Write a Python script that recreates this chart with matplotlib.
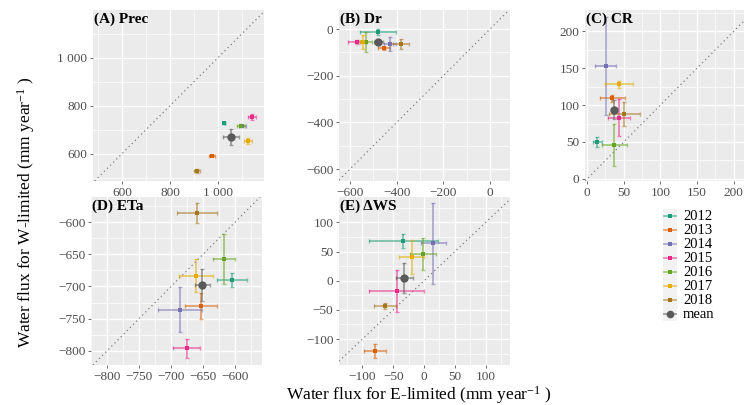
import matplotlib
matplotlib.use("Agg")
import matplotlib.pyplot as plt
from matplotlib.ticker import FixedLocator, FuncFormatter

# Years and colours (Dark2)
years = ["2012", "2013", "2014", "2015", "2016", "2017", "2018"]
year_colors = ["#1B9E77", "#D95F02", "#7570B3", "#E7298A", "#66A61E", "#E6AB02", "#A6761D"]
mean_color = "#5A5A5A"

# (A) Prec: E-limited (x) vs W-limited (y), mm/year
prec_e = [1026, 975, 1100, 1140, 1095, 1126, 911]
prec_e_err = [3, 12, 15, 17, 17, 17, 12]
prec_w = [728, 592, 714, 754, 717, 651, 528]
prec_w_err = [3, 3, 3, 12, 5, 12, 8]
prec_mean = [1054, 33, 668, 33]

# (B) Dr
dr_e = [-481, -453, -429, -570, -531, -543, -381]
dr_e_err = [77, 26, 25, 38, 25, 15, 34]
dr_w = [-14, -83, -64, -54, -57, -54, -64]
dr_w_err = [13, 8, 30, 8, 43, 30, 20]
dr_mean = [-478, 21, -57, 4]

# (C) CR
cr_e = [13.8, 34, 25.3, 44, 37.3, 44, 50.7]
cr_e_err = [6, 17, 14, 15, 17, 19, 21]
cr_w = [49.5, 109, 153, 83, 46, 128, 88]
cr_w_err = [7, 5, 66, 25, 29, 5, 16]
cr_mean = [36.4, 4, 93.6, 13]

# (D) ETa
eta_e = [-605, -653, -686, -675.5, -617, -661, -660]
eta_e_err = [23, 25.5, 34, 21, 17.5, 27, 31]
eta_w = [-690, -730, -736, -796, -657, -683, -586]
eta_w_err = [11, 20, 35, 15, 39, 26, 15]
eta_mean = [-651, 12, -698, 25]

# (E) delta WS
dws_e = [-33.6, -79, 15, -44, -2, -20, -63]
dws_e_err = [56, 18, 20, 44.6, 21, 20, 18]
dws_w = [68.6, -120.6, 64, -17, 45.7, 41, -43.4]
dws_w_err = [12, 12, 70, 36, 28, 29, 5]
dws_mean = [-32, 13.5, 5, 26]

plt.rcParams["font.family"] = ["Liberation Serif", "DejaVu Serif"]
plt.rcParams["mathtext.fontset"] = "custom"
plt.rcParams["mathtext.rm"] = "Liberation Serif"
plt.rcParams["mathtext.it"] = "Liberation Serif:italic"

W, H = 744, 405
fig = plt.figure(figsize=(W / 100, H / 100), dpi=100)


def px_axes(left, top, width, height):
    return fig.add_axes([left / W, 1 - (top + height) / H, width / W, height / H])


def thousands(v, pos):
    return "{:,.0f}".format(v).replace(",", " ").replace("-", "\u2212")


def panel(ax, title, ex, exerr, wy, wyerr, mean, lims, ticks):
    xlim, ylim = lims
    ax.set_facecolor("#EBEBEB")
    for s in ax.spines.values():
        s.set_visible(False)
    ax.set_xlim(*xlim)
    ax.set_ylim(*ylim)
    step = ticks[1] - ticks[0]
    minor = [t + step / 2 for t in [ticks[0] - step] + list(ticks)]
    ax.xaxis.set_major_locator(FixedLocator(ticks))
    ax.yaxis.set_major_locator(FixedLocator(ticks))
    ax.xaxis.set_minor_locator(FixedLocator(minor))
    ax.yaxis.set_minor_locator(FixedLocator(minor))
    ax.xaxis.set_major_formatter(FuncFormatter(thousands))
    ax.yaxis.set_major_formatter(FuncFormatter(thousands))
    ax.grid(which="major", color="white", linewidth=1.0)
    ax.grid(which="minor", color="white", linewidth=0.5)
    ax.set_axisbelow(True)
    ax.tick_params(which="major", length=2.5, width=0.5, color="#333333",
                   labelsize=9.5, labelcolor="#4D4D4D", pad=1.5)
    ax.tick_params(which="minor", length=0)
    ax.axline((xlim[0], xlim[0]), slope=1, color="#7F7F7F",
              linestyle=(0, (1, 2.5)), linewidth=0.9, zorder=1)
    for i, c in enumerate(year_colors):
        ax.errorbar(ex[i], wy[i], xerr=exerr[i], yerr=wyerr[i], fmt="none",
                    ecolor=c, elinewidth=1.3, capsize=1.5, capthick=1.0,
                    alpha=0.55, zorder=3)
        ax.plot(ex[i], wy[i], "s", color=c, ms=2.2, mew=0, zorder=4)
    ax.errorbar(mean[0], mean[2], xerr=mean[1], yerr=mean[3], fmt="none",
                ecolor=mean_color, elinewidth=1.3, capsize=1.5, capthick=1.0,
                alpha=0.55, zorder=3)
    ax.plot(mean[0], mean[2], "o", color=mean_color, ms=6, mew=0, zorder=5)
    ax.text(0.005, 0.985, title, transform=ax.transAxes, ha="left", va="top",
            fontsize=11, fontweight="bold", color="black")


ax_a = px_axes(93, 10, 171, 171)
panel(ax_a, "(A) Prec", prec_e, prec_e_err, prec_w, prec_w_err, prec_mean,
      ((479, 1191), (486, 1198)), [600, 800, 1000])

ax_b = px_axes(339, 10, 171, 171)
panel(ax_b, "(B) Dr", dr_e, dr_e_err, dr_w, dr_w_err, dr_mean,
      ((-647, 86), (-651, 82)), [-600, -400, -200, 0])

# Panel C runs past the right edge of the figure
ax_c = px_axes(585, 10, 172, 171)
panel(ax_c, "(C) CR", cr_e, cr_e_err, cr_w, cr_w_err, cr_mean,
      ((-3, 232), (-3, 229)), [0, 50, 100, 150, 200])

ax_d = px_axes(91, 197, 171, 168)
panel(ax_d, "(D) ETa", eta_e, eta_e_err, eta_w, eta_w_err, eta_mean,
      ((-825, -558), (-822, -561)), [-800, -750, -700, -650, -600])

ax_e = px_axes(339, 197, 171, 168)
panel(ax_e, "(E) \u0394WS", dws_e, dws_e_err, dws_w, dws_w_err, dws_mean,
      ((-138, 139.5), (-144.5, 143.5)), [-100, -50, 0, 50, 100])

# Legend with grey key backgrounds
ax_leg = px_axes(663, 209, 14, 112)
ax_leg.set_facecolor("#F2F2F2")
ax_leg.set_xlim(0, 1)
ax_leg.set_ylim(len(years) + 0.5, -0.5)
ax_leg.set_xticks([])
ax_leg.set_yticks([])
for s in ax_leg.spines.values():
    s.set_visible(False)
leg_labels = years + ["mean"]
leg_colors = year_colors + [mean_color]
for i, (lab, c) in enumerate(zip(leg_labels, leg_colors)):
    ax_leg.plot([0.1, 0.9], [i, i], color=c, linewidth=1.3, alpha=0.55)
    if lab == "mean":
        ax_leg.plot(0.5, i, "o", color=c, ms=5.5, mew=0)
    else:
        ax_leg.plot(0.5, i, "s", color=c, ms=2.2, mew=0)
    fig.text(683 / W, 1 - (216 + 14 * i) / H, lab, ha="left", va="center",
             fontsize=10.5, color="black")

fig.text(419 / W, 1 - 395 / H, "Water flux for E-limited (mm year$^{-1}$ )",
         ha="center", va="center", fontsize=12.5)
fig.text(26 / W, 1 - 212 / H, "Water flux for W-limited (mm year$^{-1}$ )",
         ha="center", va="center", rotation=90, fontsize=12.5)

fig.savefig("out.png", dpi=100)
